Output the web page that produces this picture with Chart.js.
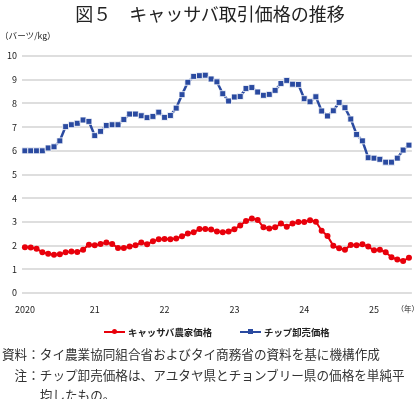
<!DOCTYPE html>
<html lang="ja">
<head>
<meta charset="utf-8">
<script src="https://cdn.jsdelivr.net/npm/chart.js@4/dist/chart.umd.min.js"></script>
<style>
  html, body { margin: 0; padding: 0; background: #fff; }
  body { width: 420px; height: 399px; position: relative; overflow: hidden;
         font-family: "Noto Sans CJK JP", "Noto Sans", sans-serif; color: #222; }
  #chartBox { position: absolute; left: 0; top: 0; width: 420px; height: 399px; }
  .title { position: absolute; left: 0; width: 420px; top: 1px; text-align: center;
           font-size: 18px; font-weight: 400; line-height: 24px; }
  .unit { position: absolute; left: 0px; top: 29px; font-size: 8.6px; line-height: 12px; }
  .legend { position: absolute; top: 325px; font-size: 9.4px; font-weight: 700; line-height: 14px;
            display: flex; align-items: center; }
  .legend .line { position: relative; width: 21px; height: 2px; margin-right: 3px; }
  .legend .mark { position: absolute; left: 8px; top: -2px; width: 5px; height: 5px; }
  .notes { position: absolute; left: 2px; top: 344px; font-size: 12.6px; line-height: 20.5px;
           white-space: pre; color: #333; }
</style>
</head>
<body>
<div id="chartBox"><canvas id="priceChart" width="420" height="399"></canvas></div>
<div class="title">図５　キャッサバ取引価格の推移</div>
<div class="unit">（バーツ/kg）</div>
<div class="legend" style="left:104px">
  <span class="line" style="background:#e8000b"><span class="mark" style="background:#e8000b;border-radius:50%"></span></span>キャッサバ農家価格
</div>
<div class="legend" style="left:240px">
  <span class="line" style="background:#2a4aa0"><span class="mark" style="background:#2a4aa0"></span></span>チップ卸売価格
</div>
<div class="notes">資料：タイ農業協同組合省およびタイ商務省の資料を基に機構作成
　注：チップ卸売価格は、アユタヤ県とチョンブリー県の価格を単純平
　　　均したもの。</div>

<script>
// 年ラベル（各年1月の位置に表示）
const yearLabels = ["2020", "21", "22", "23", "24", "25"];
const lastYearMonths = 7; // 2025年は7月まで

// キャッサバ農家価格（バーツ/kg）2020年1月〜2025年7月
const farmPrice = [
  1.93, 1.92, 1.87, 1.72, 1.66, 1.61, 1.63, 1.72, 1.75, 1.73, 1.83, 2.04,
  2.01, 2.07, 2.13, 2.07, 1.90, 1.90, 1.96, 2.01, 2.13, 2.06, 2.18, 2.27,
  2.28, 2.27, 2.30, 2.39, 2.51, 2.56, 2.70, 2.70, 2.68, 2.59, 2.56, 2.59,
  2.69, 2.85, 3.04, 3.14, 3.08, 2.77, 2.72, 2.77, 2.93, 2.80, 2.93, 3.00,
  3.00, 3.07, 3.01, 2.63, 2.41, 1.99, 1.89, 1.83, 2.03, 2.01, 2.06, 1.96,
  1.80, 1.83, 1.72, 1.51, 1.41, 1.35, 1.49
];

// チップ卸売価格（バーツ/kg）
const chipPrice = [
  6.00, 6.00, 6.00, 6.00, 6.12, 6.17, 6.42, 7.02, 7.10, 7.16, 7.30, 7.24,
  6.64, 6.82, 7.07, 7.10, 7.10, 7.32, 7.55, 7.55, 7.48, 7.40, 7.45, 7.63,
  7.41, 7.49, 7.80, 8.37, 8.89, 9.14, 9.17, 9.19, 9.03, 8.91, 8.41, 8.10,
  8.27, 8.29, 8.63, 8.67, 8.48, 8.34, 8.38, 8.55, 8.84, 8.97, 8.81, 8.80,
  8.20, 8.07, 8.28, 7.68, 7.47, 7.69, 8.04, 7.82, 7.34, 6.69, 6.42, 5.71,
  5.69, 5.64, 5.52, 5.52, 5.69, 6.03, 6.24
];

(() => {
  const RED = "#e8000b";
  const BLUE = "#2a4aa0";
  const TICK_FONT = { family: "'Noto Sans CJK JP', sans-serif", size: 9 };

  // 月ごとのカテゴリ（1月だけ年ラベル）
  const months = [];
  yearLabels.forEach((y, i) => {
    const n = i === yearLabels.length - 1 ? lastYearMonths : 12;
    for (let m = 1; m <= n; m++) months.push(m === 1 ? y : "");
  });

  // 「（年）」をx軸の右端に描く
  const yearUnit = {
    id: "yearUnit",
    afterDraw(chart) {
      const { ctx, chartArea } = chart;
      ctx.save();
      ctx.font = "7.5px 'Noto Sans CJK JP', sans-serif";
      ctx.fillStyle = "#222";
      ctx.textAlign = "right";
      ctx.textBaseline = "middle";
      ctx.fillText("（年）", 419, chartArea.bottom + 16);
      ctx.restore();
    }
  };

  new Chart(document.getElementById("priceChart"), {
    type: "line",
    data: {
      labels: months,
      datasets: [
        {
          label: "キャッサバ農家価格",
          data: farmPrice,
          borderColor: RED,
          backgroundColor: RED,
          borderWidth: 2,
          pointStyle: "circle",
          pointRadius: 3,
          pointBorderWidth: 0,
          tension: 0
        },
        {
          label: "チップ卸売価格",
          data: chipPrice,
          borderColor: BLUE,
          backgroundColor: BLUE,
          borderWidth: 2.5,
          pointStyle: "rect",
          pointRadius: 4.2,
          pointBorderColor: "#ffffff",
          pointBorderWidth: 0.8,
          tension: 0
        }
      ]
    },
    options: {
      responsive: false,
      animation: false,
      layout: { padding: { top: 56, right: 3, bottom: 81, left: 0 } },
      plugins: {
        legend: { display: false },
        tooltip: { enabled: false }
      },
      scales: {
        x: {
          offset: true,
          grid: { display: false, drawTicks: false },
          border: { display: false },
          ticks: {
            autoSkip: false,
            maxRotation: 0,
            padding: 11,
            color: "#222",
            font: TICK_FONT
          },
          afterFit: (s) => { s.height = 25; }
        },
        y: {
          min: 0,
          max: 10,
          grid: { color: "#dedede", lineWidth: 2, drawTicks: false },
          border: { display: false },
          ticks: {
            stepSize: 1,
            padding: 5,
            color: "#222",
            font: TICK_FONT
          },
          afterFit: (s) => { s.width = 22; }
        }
      }
    },
    plugins: [yearUnit]
  });
})();
</script>
</body>
</html>
